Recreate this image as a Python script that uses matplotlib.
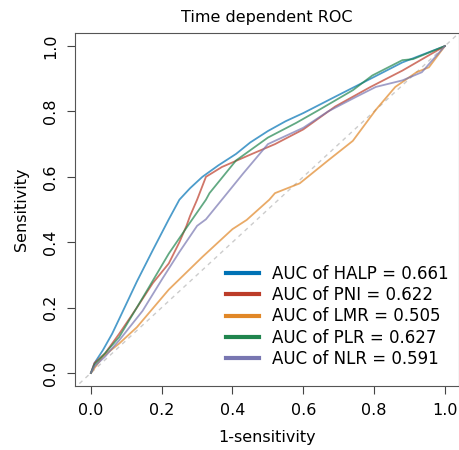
import matplotlib
matplotlib.use("Agg")
import matplotlib.pyplot as plt

# ROC curves (false positive rate, sensitivity)
halp_x = [0.0, 0.01, 0.034, 0.06, 0.082, 0.13, 0.175, 0.22, 0.24, 0.25, 0.28, 0.315, 0.36, 0.41, 0.45, 0.50, 0.55, 0.60, 0.69, 0.79, 0.88, 0.94, 1.0]
halp_y = [0.0, 0.03, 0.07, 0.12, 0.17, 0.28, 0.376, 0.47, 0.51, 0.53, 0.565, 0.60, 0.635, 0.67, 0.705, 0.74, 0.77, 0.795, 0.845, 0.90, 0.95, 0.975, 1.0]

pni_x = [0.0, 0.01, 0.04, 0.08, 0.13, 0.175, 0.22, 0.25, 0.27, 0.28, 0.30, 0.325, 0.37, 0.455, 0.52, 0.60, 0.69, 0.79, 0.88, 1.0]
pni_y = [0.0, 0.03, 0.06, 0.12, 0.20, 0.275, 0.335, 0.40, 0.45, 0.48, 0.53, 0.60, 0.63, 0.67, 0.70, 0.745, 0.815, 0.875, 0.925, 1.0]

lmr_x = [0.0, 0.034, 0.08, 0.13, 0.22, 0.315, 0.40, 0.44, 0.504, 0.52, 0.59, 0.67, 0.74, 0.805, 0.86, 0.92, 0.955, 1.0]
lmr_y = [0.0, 0.05, 0.09, 0.14, 0.255, 0.355, 0.44, 0.468, 0.53, 0.55, 0.58, 0.65, 0.71, 0.805, 0.875, 0.92, 0.935, 1.0]

plr_x = [0.0, 0.01, 0.04, 0.08, 0.16, 0.22, 0.28, 0.325, 0.335, 0.41, 0.50, 0.58, 0.645, 0.74, 0.795, 0.88, 0.91, 1.0]
plr_y = [0.0, 0.025, 0.06, 0.11, 0.255, 0.365, 0.46, 0.53, 0.55, 0.65, 0.72, 0.765, 0.805, 0.865, 0.91, 0.957, 0.96, 1.0]

nlr_x = [0.0, 0.01, 0.04, 0.08, 0.146, 0.20, 0.25, 0.30, 0.325, 0.37, 0.43, 0.50, 0.60, 0.67, 0.75, 0.805, 0.88, 0.935, 1.0]
nlr_y = [0.0, 0.02, 0.05, 0.10, 0.19, 0.285, 0.37, 0.45, 0.47, 0.53, 0.61, 0.70, 0.75, 0.80, 0.845, 0.875, 0.895, 0.92, 1.0]

labels = [
    "AUC of HALP = 0.661",
    "AUC of PNI = 0.622",
    "AUC of LMR = 0.505",
    "AUC of PLR = 0.627",
    "AUC of NLR = 0.591",
]
colors = ["#0072B5", "#BC3C29", "#E18727", "#20854E", "#7876B1"]

plt.rcParams["font.family"] = ["DejaVu Sans"]

fig = plt.figure(figsize=(4.6, 4.5), dpi=100)
ax = fig.add_axes([75 / 460, 64 / 450, 384 / 460, 353 / 450])

ax.plot([-0.05, 1.05], [-0.05, 1.05], color="#cccccc", lw=1.0, ls=(0, (3, 3)), zorder=1)

series = [(halp_x, halp_y), (pni_x, pni_y), (lmr_x, lmr_y), (plr_x, plr_y), (nlr_x, nlr_y)]
for (xs, ys), color, label in zip(series, colors, labels):
    ax.plot(xs, ys, color=color, lw=1.3, alpha=0.7, zorder=2)
    ax.plot([], [], color=color, lw=3, label=label)

ax.set_xlim(-0.045, 1.04)
ax.set_ylim(-0.04, 1.04)
ax.set_xticks([0.0, 0.2, 0.4, 0.6, 0.8, 1.0])
ax.set_yticks([0.0, 0.2, 0.4, 0.6, 0.8, 1.0])
ax.tick_params(labelsize=11.5, length=6, color="#444444", pad=6)
plt.setp(ax.get_yticklabels(), rotation=90, va="center")
for spine in ax.spines.values():
    spine.set_color("#555555")

ax.set_xlabel("1-sensitivity", fontsize=11.5, labelpad=9)
ax.set_ylabel("Sensitivity", fontsize=11.5, labelpad=10)
ax.set_title("Time dependent ROC", fontsize=11.5, pad=8)

ax.legend(loc="lower right", frameon=False, fontsize=12, handlelength=2.0,
          labelspacing=0.2, borderaxespad=0.25, handletextpad=0.75,
          bbox_to_anchor=(1.0, 0.02))

fig.savefig("out.png", dpi=100)
